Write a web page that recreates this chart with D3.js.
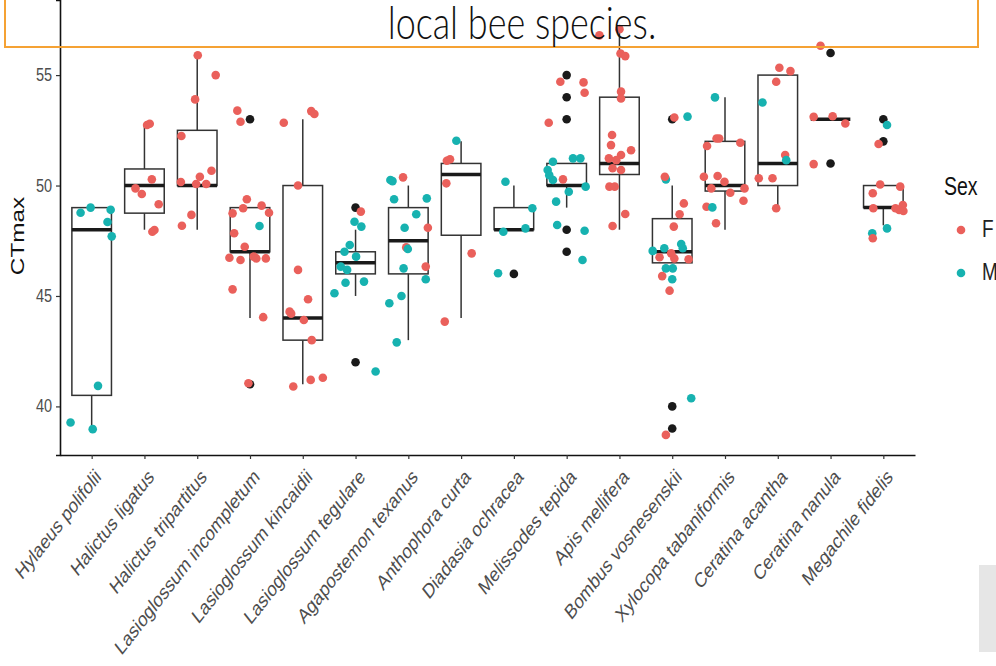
<!DOCTYPE html>
<html>
<head>
<meta charset="utf-8">
<script src="https://cdn.jsdelivr.net/npm/d3@7/dist/d3.min.js"></script>
<style>
  body { margin: 0; background: #fff; }
  svg { display: block; font-family: "Liberation Sans", Arial, sans-serif; }
</style>
</head>
<body>
<div id="chart"></div>
<script>
// species on the x axis
const species = ["Hylaeus polifolii", "Halictus ligatus", "Halictus tripartitus",
  "Lasioglossum incompletum", "Lasioglossum kincaidii", "Lasioglossum tegulare",
  "Agapostemon texanus", "Anthophora curta", "Diadasia ochracea", "Melissodes tepida",
  "Apis mellifera", "Bombus vosnesenskii", "Xylocopa tabaniformis", "Ceratina acantha",
  "Ceratina nanula", "Megachile fidelis"];

// boxplot stats per species
const whiskerLow  = [39, 48, 48, 44, 41, 45, 43, 44, 48, 49, 48, 46.5, 48, 49, 53, 48.2];
const q1          = [40.5, 48.75, 50, 47, 43, 46, 46, 47.75, 48, 50, 50.5, 46.5, 49.75, 50, 53, 49];
const medians     = [48, 50, 50, 47, 44, 46.5, 47.5, 50.5, 48, 50, 51, 47, 50, 51, 53, 49];
const q3          = [49, 50.75, 52.5, 49, 50, 47, 49, 51, 49, 51, 54, 48.5, 52, 55, 53, 50];
const whiskerHigh = [49, 52.75, 56, 49, 53, 48, 50, 52, 50, 51, 57.2, 50, 54, 55, 53, 50];

// boxplot outliers: [species index, CTmax]
const outliers = [[3, 53], [3, 41], [5, 49], [5, 42], [8, 46], [9, 55], [9, 54], [9, 53],
  [9, 48], [9, 47], [11, 53], [11, 40], [11, 39], [14, 56], [14, 51], [15, 53], [15, 52]];

// jittered observations: [species index, sex, CTmax, jitter (fraction of category step)]
const obs = [
  [0,"M",48.77,-0.21],[0,"M",49.0,-0.02],[0,"M",48.9,0.36],[0,"M",48.35,0.30],[0,"M",47.7,0.38],
  [0,"M",40.93,0.12],[0,"M",39.27,-0.40],[0,"M",38.97,0.02],
  [1,"F",52.74,0.05],[1,"F",52.8,0.10],[1,"F",50.28,0.14],[1,"F",49.87,-0.17],[1,"F",49.62,-0.05],
  [1,"F",49.15,0.27],[1,"F",47.91,0.15],[1,"F",47.99,0.19],
  [2,"F",55.9,0.01],[2,"F",55.0,0.35],[2,"F",53.9,-0.04],[2,"F",52.24,-0.30],[2,"F",50.16,-0.31],
  [2,"F",50.4,0.05],[2,"F",50.07,-0.02],[2,"F",50.07,0.17],[2,"F",50.67,0.27],[2,"F",48.67,-0.11],
  [2,"F",48.18,-0.29],
  [3,"F",53.39,-0.24],[3,"F",52.89,-0.18],[3,"F",41.05,-0.03],[3,"F",49.38,-0.06],[3,"F",48.97,-0.13],
  [3,"F",49.09,0.22],[3,"F",48.77,0.36],[3,"F",48.74,-0.33],[3,"M",48.17,0.18],[3,"F",47.84,-0.30],
  [3,"F",47.23,-0.10],[3,"F",46.73,-0.39],[3,"F",46.63,-0.18],[3,"F",46.78,0.07],[3,"F",46.7,0.12],
  [3,"F",46.7,0.30],[3,"F",45.3,-0.33],[3,"F",44.04,0.25],
  [4,"F",52.84,-0.36],[4,"F",53.37,0.16],[4,"F",53.24,0.22],[4,"F",50.0,-0.09],[4,"F",46.18,-0.09],
  [4,"F",44.85,0.10],[4,"F",44.29,-0.25],[4,"F",44.2,-0.22],[4,"F",43.91,0.02],[4,"F",43.0,0.17],
  [4,"F",40.9,-0.18],[4,"F",41.2,0.15],[4,"F",41.3,0.38],
  [5,"F",48.82,0.10],[5,"M",48.36,-0.02],[5,"M",48.14,0.11],[5,"M",47.31,-0.11],[5,"M",47.0,-0.21],
  [5,"M",46.78,0.01],[5,"M",46.33,-0.28],[5,"M",46.18,-0.16],[5,"M",45.6,-0.19],[5,"M",45.65,0.16],
  [5,"M",45.12,-0.40],[5,"M",41.58,0.38],
  [6,"M",50.25,-0.34],[6,"M",50.2,-0.30],[6,"F",50.37,-0.10],[6,"M",49.38,-0.27],[6,"M",49.42,0.35],
  [6,"M",48.7,0.15],[6,"M",48.09,-0.07],[6,"F",48.09,0.37],[6,"F",47.2,-0.04],[6,"M",47.13,-0.01],
  [6,"M",46.25,-0.09],[6,"F",46.33,0.33],[6,"M",45.76,0.33],[6,"M",44.67,-0.36],[6,"M",45.0,-0.13],
  [6,"M",42.9,-0.22],
  [7,"M",52.03,-0.09],[7,"F",51.12,-0.27],[7,"F",51.19,-0.21],[7,"F",50.1,-0.28],[7,"F",46.93,0.20],
  [7,"F",43.84,-0.31],
  [8,"M",50.17,-0.16],[8,"M",48.97,0.35],[8,"M",47.91,-0.20],[8,"M",48.06,0.22],[8,"M",46.03,-0.30],
  [9,"F",54.7,-0.12],[9,"F",54.67,0.32],[9,"F",54.2,0.34],[9,"F",52.84,-0.34],[9,"M",51.08,-0.26],
  [9,"M",50.7,-0.36],[9,"M",51.23,0.12],[9,"M",51.23,0.26],[9,"M",50.25,-0.26],[9,"F",50.28,-0.07],
  [9,"M",50.47,-0.33],[9,"M",49.72,0.04],[9,"M",49.95,0.36],[9,"M",49.27,-0.20],[9,"M",48.21,-0.18],
  [9,"M",47.95,0.34],[9,"M",46.63,0.30],
  [10,"F",57.08,0.0],[10,"F",56.8,-0.38],[10,"F",55.98,0.02],[10,"F",55.86,0.11],[10,"F",54.25,0.03],
  [10,"F",53.94,0.03],[10,"F",52.29,-0.14],[10,"F",51.83,-0.16],[10,"F",51.6,0.22],[10,"F",51.38,0.03],
  [10,"F",51.23,-0.20],[10,"F",51.15,-0.06],[10,"F",50.78,-0.13],[10,"F",50.7,0.03],[10,"F",49.95,-0.19],
  [10,"F",49.95,-0.09],[10,"F",48.71,0.11],[10,"F",48.17,-0.13],
  [11,"F",53.08,0.04],[11,"M",53.12,0.29],[11,"M",50.28,-0.12],[11,"F",50.4,-0.14],[11,"F",49.19,0.22],
  [11,"F",48.7,0.14],[11,"F",48.14,0.03],[11,"M",47.04,-0.37],[11,"M",47.16,-0.15],[11,"M",47.35,0.17],
  [11,"M",47.16,0.20],[11,"F",46.75,-0.24],[11,"F",46.93,-0.02],[11,"F",46.7,0.04],[11,"F",46.66,0.31],
  [11,"M",46.25,-0.12],[11,"M",46.25,0.01],[11,"F",45.9,-0.19],[11,"M",45.76,0.0],[11,"F",45.24,-0.05],
  [11,"M",40.37,0.36],[11,"F",38.71,-0.12],
  [12,"M",53.99,-0.19],[12,"F",52.13,-0.16],[12,"F",52.13,-0.11],[12,"F",51.79,-0.34],[12,"F",51.94,0.29],
  [12,"F",50.4,-0.40],[12,"F",50.43,-0.14],[12,"F",50.17,-0.01],[12,"F",49.87,-0.26],[12,"F",49.67,0.10],
  [12,"F",49.87,0.37],[12,"F",49.31,0.35],[12,"F",49.04,-0.35],[12,"M",49.01,-0.24],[12,"F",48.29,-0.17],
  [13,"F",55.33,0.03],[13,"F",55.18,0.24],[13,"F",54.7,-0.03],[13,"M",53.76,-0.29],[13,"F",51.38,0.14],
  [13,"M",51.15,0.16],[13,"F",50.33,-0.36],[13,"F",50.33,-0.10],[13,"F",48.97,-0.03],
  [14,"F",56.33,-0.19],[14,"F",53.11,-0.32],[14,"F",53.14,0.04],[14,"F",52.81,0.28],[14,"F",50.97,-0.32],
  [15,"M",52.74,0.07],[15,"F",51.88,-0.09],[15,"F",49.65,-0.20],[15,"F",50.05,-0.06],[15,"F",49.95,0.32],
  [15,"F",48.97,-0.19],[15,"F",48.97,0.23],[15,"F",48.89,0.30],[15,"F",49.12,0.37],[15,"F",48.85,0.38],
  [15,"M",47.84,-0.21],[15,"F",47.61,-0.20],[15,"M",48.06,0.07]
];

const yTicks = [40, 45, 50, 55];
const sexes = ["F", "M"];
const sexColors = ["#ea605b", "#17b2b0"];

const W = 996, H = 666;
const k = 1.28; // the picture is stretched vertically

const svg = d3.select("#chart").append("svg").attr("width", W).attr("height", H);

const x = d3.scalePoint().domain(species).range([60, 915]).padding(0.6);
const y = d3.scaleLinear().domain([37.8, 58.4]).range([455, 0]);
const color = d3.scaleOrdinal().domain(sexes).range(sexColors);
const step = x.step();
const boxW = step * 0.75;

// boxes
const boxes = svg.append("g");
species.forEach((s, i) => {
  const cx = x(s);
  const g = boxes.append("g");
  g.append("line").attr("x1", cx).attr("x2", cx)
    .attr("y1", y(q3[i])).attr("y2", y(whiskerHigh[i]))
    .attr("stroke", "#333").attr("stroke-width", 1.5);
  g.append("line").attr("x1", cx).attr("x2", cx)
    .attr("y1", y(q1[i])).attr("y2", y(whiskerLow[i]))
    .attr("stroke", "#333").attr("stroke-width", 1.5);
  g.append("rect").attr("x", cx - boxW / 2).attr("width", boxW)
    .attr("y", y(q3[i])).attr("height", Math.max(0, y(q1[i]) - y(q3[i])))
    .attr("fill", "#fff").attr("stroke", "#333").attr("stroke-width", 1.5);
  g.append("line").attr("x1", cx - boxW / 2).attr("x2", cx + boxW / 2)
    .attr("y1", y(medians[i])).attr("y2", y(medians[i]))
    .attr("stroke", "#1a1a1a").attr("stroke-width", 3.5);
});

boxes.selectAll("circle.out").data(outliers).join("circle")
  .attr("class", "out")
  .attr("cx", d => x(species[d[0]]))
  .attr("cy", d => y(d[1]))
  .attr("r", 4.3)
  .attr("fill", "#1a1a1a");

// jittered points
svg.append("g").selectAll("circle").data(obs).join("circle")
  .attr("cx", d => x(species[d[0]]) + d[3] * step)
  .attr("cy", d => y(d[2]))
  .attr("r", 4.3)
  .attr("fill", d => color(d[1]));

// axes
const yAxis = svg.append("g").attr("transform", "translate(60,0)")
  .call(d3.axisLeft(y).tickValues(yTicks).tickSize(4).tickPadding(4));
yAxis.select(".domain").attr("stroke", "#111").attr("stroke-width", 1.6);
yAxis.selectAll(".tick line").attr("stroke", "#333").attr("stroke-width", 1.2);
yAxis.selectAll(".tick text").attr("fill", "#4d4d4d").attr("font-size", 14.5)
  .attr("transform", `scale(1,${k})`).attr("dy", "0.3em")
  .attr("y", 0);

const xAxis = svg.append("g").attr("transform", "translate(0,455)")
  .call(d3.axisBottom(x).tickSize(4).tickSizeOuter(0));
xAxis.select(".domain").attr("stroke", "#111").attr("stroke-width", 1.6);
xAxis.selectAll(".tick line").attr("stroke", "#333").attr("stroke-width", 1.2);
xAxis.selectAll(".tick text")
  .attr("fill", "#4d4d4d").attr("font-size", 16.3)
  .attr("text-anchor", "end").attr("x", 0).attr("y", 0).attr("dy", 0)
  .attr("transform", `translate(10,23) scale(1,${k}) rotate(-45)`);

// y title
svg.append("text")
  .attr("transform", `translate(24,236) scale(1,${k}) rotate(-90)`)
  .attr("text-anchor", "middle")
  .attr("font-size", 19).attr("fill", "#111")
  .text("CTmax");

// legend
const legend = svg.append("g");
legend.append("text").attr("transform", `translate(944,195) scale(1,${k})`)
  .attr("font-size", 19.5).attr("fill", "#111").text("Sex");
sexes.forEach((s, i) => {
  const ly = 230 + i * 43;
  legend.append("circle").attr("cx", 961).attr("cy", ly).attr("r", 4.3).attr("fill", color(s));
  legend.append("text").attr("transform", `translate(982,${ly + 7}) scale(1,${k})`)
    .attr("font-size", 19).attr("fill", "#222").text(s);
});

// caption overlay at the top
svg.append("rect").attr("x", 5).attr("y", -10).attr("width", 973).attr("height", 57)
  .attr("fill", "none").attr("stroke", "#f5a234").attr("stroke-width", 2);
svg.append("text").attr("transform", `translate(522,39) scale(1,${k})`)
  .attr("text-anchor", "middle").attr("font-family", "Lato, 'Open Sans', sans-serif")
  .attr("font-weight", 300)
  .attr("font-size", 36).attr("fill", "#111").text("local bee species.");

// grey block at the bottom right
svg.append("rect").attr("x", 979).attr("y", 565).attr("width", 17).attr("height", 87)
  .attr("fill", "#e6e6e6");
</script>
</body>
</html>
